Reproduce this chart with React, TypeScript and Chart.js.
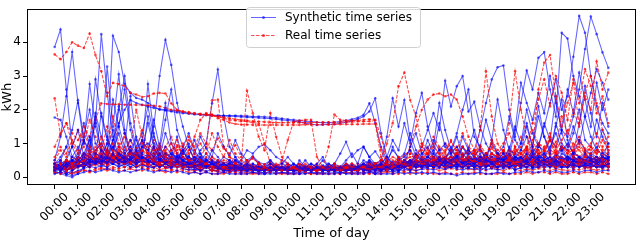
import React, { useEffect, useRef } from "react";
import { Chart, registerables } from "chart.js";

Chart.register(...registerables);

// 96 quarter-hour slots, labelled every hour
const hourLabels = ["00:00","01:00","02:00","03:00","04:00","05:00","06:00","07:00","08:00","09:00","10:00","11:00","12:00","13:00","14:00","15:00","16:00","17:00","18:00","19:00","20:00","21:00","22:00","23:00"];
const slotsPerHour = 4;

// ---------- Synthetic time series (kWh) ----------
const synth01 = [3.86,4.38,2.6,.9, .5,.4,.6,.4, .3,.5,.4,.3, .4,.3,.5,.4, .3,.4,.3,.4, .3,.4,.3,.3, .3,.2,.3,.2, .2,.3,.2,.2, .2,.2,.3,.2, .2,.3,.2,.2, .2,.2,.2,.3, .2,.2,.3,.2, .2,.3,.2,.2, .3,.2,.2,.3, .2,.3,.3,.2, .3,.4,.3,.3, .4,.3,.4,.3, .3,.4,.3,.4, .3,.4,.4,.3, .4,.3,.4,.4, .3,.4,.5,.4, .4,.5,.3,.4, .3,.4,.5,.3, .4,.3,.5,.4];
const synth02 = [.5,1.2,2.4,3.71, 2.2,1.0,2.76,1.5, .8,.6,.5,.7, .5,.4,.6,.5, .4,.5,.4,.3, .4,.3,.4,.3, .3,.4,.3,.3, .3,.2,.3,.3, .2,.3,.2,.3, .2,.2,.3,.2, .3,.2,.2,.2, .2,.3,.2,.3, .2,.2,.3,.2, .3,.2,.3,.2, .2,.3,.2,.3, .3,.2,.4,.3, .4,.3,.3,.5, .3,.4,.3,.4, .4,.3,.5,.4, .3,.5,.4,.3, .5,.4,.3,.5, .4,.3,.5,.4, .3,.5,.4,.5, .4,.5,.3,.4];
const synth03 = [.4,.3,.5,.4, .4,.6,.9,1.6, 4.24,2.5,1.2,.6, .4,.5,.7,.5, .4,.6,.5,.4, .3,.4,.5,.3, .4,.3,.3,.4, .3,.2,.3,.3, .2,.3,.2,.2, .3,.2,.2,.3, .2,.2,.3,.2, .2,.3,.2,.2, .3,.2,.2,.3, .2,.3,.2,.3, .3,.2,.3,.2, .3,.4,.3,.5, .4,.3,.5,.4, .5,.4,.3,.4, .4,.5,.4,.3, .5,.4,.3,.4, .4,.5,.6,.4, .5,.4,.6,.5, .4,.6,.5,.4, .5,.4,.5,.6];
const synth04 = [.3,.4,.3,.5, .4,.6,.5,.7, .6,1.0,4.19,3.71, 2.76,2.5,2.35,2.3, 2.2,2.1,2.0,1.98, 1.95,1.92,1.9,1.88, 1.86,1.85,1.84,1.83, 1.82,1.82,1.81,1.8, 1.79,1.78,1.77,1.76, 1.75,1.74,1.72,1.7, 1.68,1.66,1.64,1.6, 1.58,1.55,1.56,1.57, 1.57,1.6,1.63,1.67, 1.72,1.8,1.95,2.34, 1.3,.6,.4,.3, .4,.3,.5,.4, .3,.4,.3,.5, .4,.3,.4,.3, .4,.5,.3,.4, .3,.4,.5,.3, .4,.3,.5,.4, .5,.4,.3,.5, .4,.5,.4,.3, .5,.4,.3,.4];
const synth05 = [.4,.3,.4,.5, .6,.5,.8,.6, .5,.7,1.1,1.6, 2.0,2.29,2.2,2.15, 2.1,2.05,2.02,2.0, 1.98,1.96,1.93,1.9, 1.88,1.86,1.85,1.84, 1.83,1.82,1.83,1.83, 1.82,1.81,1.8,1.8, 1.79,1.78,1.76,1.74, 1.72,1.7,1.68,1.66, 1.65,1.63,1.62,1.62, 1.63,1.65,1.68,1.72, 1.76,1.85,2.19,1.6, .9,.5,.4,.3, .3,.4,.3,.4, .4,.3,.5,.4, .3,.4,.4,.3, .4,.5,.3,.4, .4,.3,.4,.5, .3,.4,.5,.4, .5,.3,.4,.4, .3,.5,.4,.3, .4,.4,.3,.5];
const synth06 = [.3,.4,.3,.4, .5,.4,.6,.5, .4,.6,.5,.7, .5,.8,.6,.9, .8,1.5,3.0,4.07, 3.33,2.2,1.5,.9, .5,.6,.4,.5, .4,.3,.4,.3, .3,.4,.3,.3, .2,.3,.3,.2, .3,.2,.3,.3, .2,.3,.2,.3, .3,.2,.3,.2, .3,.3,.2,.3, .3,.4,.3,.3, .4,.3,.5,.4, .3,.5,.4,.4, .5,.4,.3,.5, .4,.3,.5,.4, .3,.4,.5,.4, .5,.4,.3,.5, .4,.5,.4,.3, .5,.3,.4,.5, .4,.5,.4,.3];
const synth07 = [.3,.2,.4,.3, .4,.5,.4,.6, .5,.4,.7,.5, .6,.5,.4,.6, .5,.7,.5,.4, .6,.5,.7,.6, .5,.8,1.0,2.19, 3.19,1.8,.9,.6, .4,.5,.3,.4, .3,.4,.3,.3, .4,.3,.3,.2, .3,.3,.2,.3, .3,.2,.3,.3, .2,.3,.3,.4, .3,.4,.3,.4, .4,.5,.4,.3, .5,.4,.6,.4, .4,.5,.4,.6, .5,.4,.5,.4, .4,.6,.4,.5, .5,.4,.6,.4, .4,.5,.4,.6, .5,.4,.5,.4, .4,.5,.6,.4];
const synth08 = [.3,.5,.9,1.4, 2.28,1.2,2.0,1.0, .8,3.28,1.5,3.05, 1.4,.7,.5,.9, 2.76,1.3,.6,.4, .5,.4,.6,.5, .4,.3,.5,.4, .3,.4,.3,.3, .3,.2,.3,.3, .2,.3,.2,.3, .3,.2,.3,.2, .2,.3,.3,.2, .3,.2,.3,.3, .3,.2,.4,.3, .4,.3,.3,.5, .4,.5,.4,.3, .5,.4,.3,.5, .4,.3,.5,.4, .3,.5,.4,.3, .4,.3,.4,.5, .3,.5,.4,.3, .5,.3,.4,.5, .4,.3,.5,.4, .3,.4,.5,.3];
const synth09 = [1.77,1.7,1.2,.6, .5,1.1,.8,1.9, 1.2,.7,2.3,1.5, .9,2.4,1.1,.6, 1.8,1.0,.7,.5, .6,.4,.9,1.3, .8,.5,.4,.3, .4,.3,.3,.4, .3,.3,.2,.3, .3,.2,.3,.2, .2,.3,.2,.3, .3,.2,.2,.3, .2,.3,.3,.2, .3,.2,.3,.3, .2,.4,.3,.3, .4,.3,.4,.3, .3,.4,.5,.3, .4,.3,.4,.5, .3,.4,.3,.4, .5,.4,.3,.4, .4,.3,.5,.4, .3,.4,.4,.5, .4,.3,.5,.4, .3,.4,.3,.5];
const synth10 = [.2,.3,.2,.3, .4,.3,.5,.4, .6,.5,.4,.6, .5,.4,.6,.5, .4,.5,.4,.6, .5,.6,.4,.5, .6,.5,.7,.5, .4,.6,.5,.4, .5,.8,.7,.9, .97,.8,.6,.5, .4,.3,.4,.3, .4,.3,.5,.3, .4,.7,1.05,.6, .8,.9,.6,.77, .5,.4,.3,.4, .3,.4,.3,.4, .4,.3,.4,.3, .3,.4,.3,.4, .4,.3,.4,.3, .3,.4,.4,.3, .4,.3,.4,.4, .3,.4,.3,.4, .4,.3,.4,.3, .3,.4,.3,.4];
const synth11 = [.3,.4,.3,.5, .4,.5,.4,.6, .5,.4,.6,.5, .4,.5,.4,.5, .4,.3,.5,.4, .3,.4,.3,.4, .3,.3,.4,.3, .3,.2,.3,.3, .2,.3,.2,.3, .3,.2,.3,.2, .2,.3,.2,.3, .3,.2,.3,.3, .2,.3,.3,.4, .3,.4,.5,.4, .5,1.2,2.34,1.5, 2.29,1.1,.6,.9, 1.4,1.9,1.4,2.86, 2.1,2.7,3.0,1.95, 2.24,1.5,1.0,.7, .5,.6,.4,.5, .6,.4,.5,.7, .5,.6,.4,.5, .6,.5,.4,.6, .5,.4,.6,.5];
const synth12 = [.3,.4,.5,.3, .4,.5,.6,.4, .5,.6,.4,.5, .6,.5,.4,.5, .4,.5,.3,.4, .5,.4,.3,.4, .3,.4,.3,.3, .4,.3,.3,.2, .3,.2,.3,.3, .2,.3,.3,.2, .3,.2,.2,.3, .2,.3,.2,.2, .3,.2,.3,.2, .3,.3,.2,.3, .3,.4,.3,.4, .4,.5,.4,.6, .5,.7,.5,.6, .8,.6,.9,.7, .8,1.4,2.2,2.9, 3.26,3.31,2.0,1.2, 2.2,3.16,2.6,3.54, 3.71,2.6,1.8,4.28, 4.11,3.0,2.4,1.8, 2.5,3.2,2.8,2.3];
const synth13 = [.3,.4,.3,.4, .5,.4,.5,.6, .5,.4,.6,.5, .4,.5,.4,.5, .4,.5,.3,.4, .4,.3,.4,.3, .3,.4,.3,.3, .3,.2,.3,.3, .2,.3,.2,.2, .3,.2,.2,.3, .2,.2,.3,.2, .2,.3,.2,.2, .3,.2,.3,.2, .3,.3,.2,.3, .3,.4,.3,.3, .4,.3,.5,.4, .4,.5,.4,.3, .5,.4,.4,.5, .4,.5,.6,.4, .5,.6,.5,.7, .6,.8,.5,.9, 1.5,2.2,2.9,2.0, 2.4,3.57,4.78,4.28, 3.0,2.1,1.6,1.3];
const synth14 = [.2,.3,.2,.3, .3,.4,.3,.4, .4,.3,.5,.4, .3,.4,.3,.4, .3,.3,.4,.3, .3,.4,.3,.3, .2,.3,.3,.2, .3,.2,.2,.3, .2,.2,.2,.3, .2,.2,.3,.2, .2,.2,.2,.2, .3,.2,.2,.2, .2,.2,.3,.2, .2,.3,.2,.2, .3,.2,.3,.3, .3,.4,.3,.4, .3,.4,.4,.3, .4,.3,.4,.4, .3,.4,.3,.5, .4,.5,.4,.6, .5,.7,.6,.9, .8,1.1,.9,1.4, 1.2,1.8,2.6,3.8, 4.76,4.24,3.7,3.24];
const synth15 = [.4,.3,.5,.4, .6,.5,.7,.5, .6,.8,.6,.7, .5,.7,.6,.5, .6,.5,.4,.6, .5,.4,.5,.4, .4,.5,.3,.4, .4,.3,.4,.3, .3,.3,.2,.3, .3,.2,.3,.3, .3,.3,.3,.2, .3,.2,.3,.3, .2,.3,.3,.3, .3,.3,.3,.4, .3,.4,.4,.3, .5,.4,.6,.5, .6,.5,.4,.6, .5,.7,.5,.6, .6,.5,.7,.6, .5,.6,.6,1.4, 2.8,2.2,1.7,2.5, 1.9,3.0,2.2,1.4, 2.6,1.9,3.1,2.3, 1.5,2.8,2.0,2.6];
const synth16 = [.3,.4,.2,.3, .4,.3,.5,.6, .4,.5,.7,.5, .6,.4,.5,.6, .5,.4,.6,.4, .5,.3,.4,.5, .3,.4,.3,.3, .3,.3,.2,.3, .3,.2,.3,.2, .2,.3,.2,.3, .2,.3,.2,.2, .3,.2,.3,.2, .2,.2,.3,.3, .2,.3,.4,.3, .4,.3,.3,.4, .3,.4,.5,.4, .5,.4,.6,.5, .4,.6,.5,.4, .5,.6,.4,.7, .6,.5,.8,.7, 1.0,1.6,.9,1.8, 1.2,.8,1.5,2.3, 1.1,.7,1.6,2.7, 1.9,1.2,2.2,1.5];
const synth17 = [.4,.6,.9,.5, .7,1.6,.9,2.9, 1.8,1.1,.8,2.0, 3.0,1.6,.9,1.3, 2.1,1.2,.8,1.7, 2.6,1.4,.9,.6, 1.1,.7,.5,.4, .5,.4,.3,.4, .3,.35,.3,.25, .3,.25,.3,.28, .25,.3,.22,.28, .3,.25,.28,.22, .27,.3,.25,.3, .28,.35,.3,.32, .35,.3,.4,.35, .45,.4,.5,.42, .5,.45,.55,.48, .42,.5,.45,.55, .48,.55,.45,.5, .55,.5,.6,.52, .58,.5,.65,.55, .6,.52,.68,.58, .55,.62,.5,.6, .58,.52,.6,.55];
const synth18 = [.3,.35,.3,.4, .45,.5,.4,.55, .6,.5,.65,.55, .5,.6,.55,.5, .45,.55,.5,.4, .45,.4,.35,.4, .35,.3,.32,.28, .3,.26,.3,.25, .22,.26,.24,.2, .25,.22,.2,.24, .22,.25,.2,.23, .25,.22,.24,.2, .24,.2,.25,.27, .3,.26,.35,.3, .4,.6,1.1,.8, 1.6,1.0,1.9,2.5, 1.5,.9,2.2,1.4, .8,1.3,2.0,2.6, 1.2,.9,1.7,1.1, 2.3,1.4,.8,1.5, 1.0,2.0,1.3,.9, 1.6,1.1,2.4,1.3, .9,1.5,1.0,1.8, 1.2,.8,1.4,1.0];
const synthLow1 = [.2,.3,.1,.2, .3,.4,.3,.5, .4,.6,.5,.4, .5,.3,.4,.6, .5,.4,.3,.4, .3,.5,.4,.3, .3,.2,.3,.4, .3,.2,.2,.3, .2,.3,.2,.2, .1,.2,.2,.3, .2,.2,.1,.2, .2,.3,.2,.2, .2,.1,.2,.2, .3,.2,.2,.1, .2,.3,.2,.2, .3,.2,.4,.3, .3,.4,.3,.5, .4,.3,.3,.4, .3,.2,.3,.4, .3,.3,.4,.2, .3,.4,.3,.3, .4,.3,.5,.3, .3,.4,.3,.4, .4,.3,.3,.4];
const synthLow2 = [.3,.2,.4,.3, .5,.7,.6,.4, .8,.6,.9,.7, .6,.8,.5,.7, .6,.5,.7,.5, .4,.6,.5,.4, .5,.4,.3,.4, .3,.4,.3,.2, .3,.2,.3,.2, .2,.3,.2,.2, .3,.2,.2,.3, .2,.3,.2,.3, .2,.3,.2,.2, .3,.2,.3,.3, .2,.3,.3,.2, .4,.5,.3,.4, .5,.4,.6,.4, .5,.6,.4,.5, .4,.5,.4,.3, .5,.4,.3,.4, .4,.5,.3,.6, .5,.4,.5,.4, .3,.5,.4,.5, .5,.4,.6,.5];
const synthLow3 = [.1,.15,.1,.05, .1,.15,.2,.15, .2,.25,.2,.15, .2,.15,.2,.25, .2,.15,.2,.2, .15,.2,.15,.1, .15,.1,.15,.1, .1,.15,.1,.1, .1,.1,.15,.1, .1,.1,.1,.15, .1,.1,.1,.1, .15,.1,.1,.1, .1,.15,.1,.1, .1,.1,.15,.1, .1,.1,.1,.15, .1,.15,.1,.15, .1,.15,.1,.1, .1,.05,.1,.1, .1,.15,.1,.1, .15,.1,.1,.15, .15,.2,.15,.15, .2,.15,.2,.15, .15,.2,.15,.2, .2,.15,.2,.2];
const synthLow4 = [.4,.5,.3,.6, .9,.5,1.2,.7, .6,1.0,.8,1.3, .7,.9,.6,1.1, .8,.6,.9,.5, .7,.5,.6,.4, .4,.5,.3,.4, .3,.4,.5,.3, .3,.4,.3,.2, .3,.2,.3,.3, .2,.3,.3,.2, .3,.2,.3,.2, .3,.2,.2,.3, .3,.4,.3,.2, .3,.2,.4,.3, .5,.4,.7,.5, .6,.8,.5,.6, .7,.5,.9,.6, .5,.7,.4,.6, .6,.5,.7,.5, .6,.4,.7,.5, .5,.6,.4,.7, .6,.5,.6,.4, .5,.6,.4,.6];
const synthLow5 = [.25,.3,.2,.3, .35,.3,.45,.4, .5,.45,.4,.5, .45,.55,.4,.5, .45,.4,.5,.45, .4,.45,.35,.4, .35,.3,.35,.3, .25,.3,.25,.3, .25,.2,.25,.2, .2,.25,.2,.2, .2,.2,.25,.2, .2,.25,.2,.2, .25,.2,.2,.25, .2,.25,.2,.25, .25,.2,.25,.3, .3,.35,.3,.35, .35,.3,.4,.35, .3,.35,.3,.3, .35,.3,.35,.3, .3,.35,.3,.35, .35,.3,.4,.35, .35,.4,.35,.3, .4,.35,.3,.35, .35,.3,.35,.3];
const synthLow6 = [.2,.1,.05,0, .1,.3,.5,.4, .6,.4,.7,.5, .4,.6,.8,.5, .6,.9,.5,.7, .6,.5,.8,.5, .4,.6,.4,.3, .5,.3,.4,.6, .3,.2,.4,.3, .2,.4,.3,.2, .3,.2,.5,.3, .2,.3,.2,.4, .3,.2,.4,.3, .2,.3,.5,.3, .4,.3,.2,.4, .3,.5,.4,.3, .4,.3,.5,.4, .6,.4,.3,.5, .4,.6,.5,.4, .3,.5,.4,.6, .5,.4,.6,.5, .4,.5,.3,.5, .6,.4,.5,.3, .4,.5,.3,.4];
const synthLow7 = [.3,.4,.3,.5, .4,.6,.5,.8, 1.0,.7,.9,.6, .8,1.1,.7,.9, 1.0,.8,.6,.9, .7,.6,.8,.5, .6,.4,.5,.4, .4,.3,.4,.5, .4,.3,.4,.3, .3,.4,.3,.3, .3,.4,.3,.3, .4,.3,.3,.4, .3,.3,.4,.3, .3,.5,.4,.3, .4,.6,.4,.5, .6,.8,.5,.7, .9,.6,.8,1.0, .7,.9,.6,.8, .6,.5,.7,.4, .5,.7,.5,.6, .5,.7,.4,.6, .7,.5,.6,.8, .5,.7,.6,.5, .7,.6,.5,.7];
const synthLow8 = [.3,.2,.3,.4, .6,1.1,.7,.5, .4,.8,1.4,.9, .5,.7,1.2,.6, .5,.9,.6,1.3, .8,.5,.7,.9, .5,.7,.4,.8, .6,.4,.3,.5, .3,.4,.6,.4, .3,.5,.3,.4, .6,.4,.3,.5, .3,.4,.6,.3, .4,.3,.5,.7, .4,.9,.6,.4, .3,.5,.8,.6, .4,.9,1.3,.7, .6,1.1,.8,.5, .9,.6,1.2,.8, .6,.9,.5,1.1, .7,.5,.9,.6, .8,1.2,.7,1.0, .6,.9,1.3,.8, 1.0,.7,1.1,.8, .7,.9,.6,1.0];
const synthLow9 = [.35,.28,.52,.9, 1.4,.62,.45,1.8, .7,.52,1.1,2.1, 1.3,.6,.48,.75, 1.6,.9,.55,.42, .6,1.2,.5,.38, .45,.33,.5,.4, .3,.42,.28,.35, .25,.32,.22,.3, .27,.2,.31,.24, .22,.28,.19,.26, .3,.21,.25,.18, .26,.3,.22,.35, .28,.4,.32,.25, .38,.3,.45,.33, .5,.42,.36,.55, .44,.6,.38,.5, .62,.45,.7,.5, .55,.4,.65,.48, .5,.72,.45,.6, .58,.45,.8,.52, .7,.5,.62,.9, .55,.75,.6,.48, .66,.5,.72,.58];
const synthLow10 = [.28,.4,.33,.26, .45,.7,1.1,.6, 1.9,1.2,.7,1.5, 2.6,1.4,.8,1.1, .65,1.7,.9,2.2, 1.0,.7,.5,.62, .4,.55,.36,.48, .32,.4,.3,.26, .3,.24,.33,.27, .2,.26,.22,.29, .25,.2,.27,.23, .18,.25,.3,.22, .27,.22,.19,.28, .24,.32,.26,.3, .34,.27,.4,.31, .45,.38,.52,.41, .6,.47,.4,.58, .5,.65,.44,.7, .48,.6,.53,.42, .56,.46,.62,.5, .44,.58,.5,.66, .54,.42,.6,.5, .62,.48,.55,.7, .5,.6,.45,.58];
const synthLow11 = [.18,.22,.15,.12, .2,.26,.32,.28, .35,.3,.4,.33, .38,.42,.3,.36, .33,.28,.36,.3, .27,.32,.25,.22, .24,.2,.18,.22, .17,.2,.16,.19, .15,.18,.14,.16, .13,.16,.15,.12, .15,.13,.17,.14, .12,.15,.13,.16, .14,.17,.12,.15, .16,.13,.18,.15, .17,.2,.16,.19, .22,.25,.2,.24, .26,.22,.28,.24, .3,.25,.22,.27, .24,.28,.23,.26, .22,.26,.29,.24, .27,.3,.25,.32, .28,.33,.27,.3, .32,.27,.35,.29, .3,.34,.28,.32];
const synthLow12 = [.4,.32,.45,.38, .5,.42,.6,.52, .66,.55,.48,.62, .57,.7,.5,.6, .52,.45,.58,.47, .42,.5,.38,.44, .36,.42,.33,.3, .28,.34,.26,.31, .24,.29,.22,.27, .25,.2,.28,.23, .21,.26,.24,.2, .27,.22,.25,.3, .23,.29,.35,.26, .32,.28,.44,.36, .48,.38,.9,.55, .7,1.3,.8,.6, 1.1,.7,1.6,.9, .75,1.2,.65,.85, 1.4,.8,.6,1.0, .7,.9,1.8,1.1, .8,1.5,.9,2.1, 1.2,.7,1.6,1.0, .8,1.3,2.0,1.1, .9,1.7,1.2,.8];
const synthLow13 = [.22,.3,.26,.2, .33,.4,.36,.5, .45,.56,.62,.5, .58,.48,.66,.55, .6,.72,.5,.64, .7,.55,.8,1.0, .7,1.2,.85,.6, 1.3,.9,.65,1.1, .7,.5,.62,.45, .38,.5,.35,.42, .3,.38,.28,.33, .3,.26,.35,.28, .32,.27,.3,.25, .28,.33,.3,.36, .3,.38,.33,.42, .36,.45,.4,.5, .44,.38,.52,.46, .4,.5,.43,.38, .47,.4,.52,.45, .5,.42,.48,.55, .46,.55,.5,.42, .52,.45,.58,.5, .48,.56,.44,.52, .55,.47,.5,.6];
const synthLow14 = [.3,.24,.35,.28, .4,.35,.5,.44, .55,.62,.48,.7, .6,.52,.75,.58, .68,.5,.6,.72, .55,.66,.48,.58, .5,.44,.55,.4, .45,.38,.42,.35, .3,.35,.28,.32, .27,.3,.24,.29, .26,.22,.3,.25, .23,.28,.25,.21, .26,.3,.23,.28, .31,.26,.33,.29, .27,.35,.3,.38, .42,.36,.48,.4, .52,.45,.4,.55, .47,.58,.5,.44, .55,.48,.6,.52, .45,.55,.5,.6, .52,.62,.48,.56, .6,.5,.66,.54, .5,.58,.52,.64, .56,.5,.62,.54];

// ---------- Real time series (kWh) ----------
const real01 = [3.64,3.5,3.71,4.0, 3.9,3.83,4.26,3.62, 3.14,2.4,2.8,2.76, 2.7,2.5,2.45,2.38, 2.4,2.48,2.5,2.48, 2.19,2.0,1.95,1.9, 1.88,1.86,1.85,1.82, 1.8,1.78,1.75,1.72, 1.7,1.68,1.66,1.65, 1.64,1.63,1.62,1.62, 1.62,1.62,1.62,1.62, 1.62,1.63,1.63,1.63, 1.63,1.63,1.64,1.64, 1.65,1.65,1.66,1.68, .8,.4,.3,.4, .3,.4,.3,.5, .4,.3,.5,.4, .3,.4,.3,.4, .5,.4,.3,.4, .4,.3,.5,.4, .3,.4,.4,.5, .4,.3,.5,.4, .5,.4,.3,.5, .4,.5,.4,.3];
const real02 = [2.34,1.25,1.6,1.3, 1.1,1.5,1.2,1.7, 2.19,2.17,2.16,2.16, 2.15,2.15,2.14,2.14, 2.13,2.12,2.1,2.05, 2.0,1.98,1.95,1.93, 1.9,1.88,1.86,1.85, 1.75,1.7,1.62,1.58, 1.56,1.56,1.55,1.55, 1.55,1.55,1.55,1.55, 1.55,1.55,1.55,1.56, 1.56,1.56,1.56,1.56, 1.57,1.57,1.57,1.57, 1.57,1.58,1.58,1.58, .6,.3,.4,.3, .4,.3,.4,.5, .3,.4,.5,.4, .3,.5,.4,.3, .4,.3,.5,.4, .3,.4,.3,.5, .4,.5,.3,.4, .5,.4,.3,.4, .3,.5,.4,.3, .4,.3,.4,.5];
const real03 = [.4,.5,.4,.6, .5,.7,.6,.5, .8,.6,.7,.5, .6,.5,.7,.6, .5,.6,.5,.7, .6,.8,1.0,.7, 1.2,1.7,1.9,1.85, 1.8,1.75,1.7,1.68, 1.66,1.65,1.62,1.6, 1.0,.4,.3,.5, 1.1,1.65,1.68,1.7, 1.7,.6,.3,.9, 1.86,1.7,1.68,1.68, 1.68,1.7,1.72,1.7, 1.2,.5,.3,.4, .3,.4,.3,.3, .4,.3,.4,.3, .3,.4,.3,.4, .3,.3,.4,.3, .4,.3,.3,.4, .3,.4,.3,.3, .4,.3,.4,.3, .3,.4,.3,.4, .4,.3,.3,.4];
const real04 = [.3,.4,.3,.4, .5,.4,.6,.5, .4,.6,.5,.7, .6,.5,.7,.5, .6,.5,.4,.6, .5,.4,.6,.5, .4,.6,.9,2.28, 2.3,.9,.6,.5, .4,2.56,1.9,1.2, .8,1.9,1.2,.6, .4,.3,.4,.3, .3,.4,.3,.3, .4,.3,.3,.4, .3,.3,.4,.3, .4,.3,.4,.5, .4,.5,.4,.6, .5,.4,.6,.5, .4,.5,.6,.4, .5,.4,.5,.6, .4,.5,.4,.5, .6,.4,.5,.4, .5,.6,.4,.5, .4,.5,.6,.4, .5,.4,.5,.6];
const real05 = [.3,.4,.3,.3, .4,.3,.5,.4, .5,.4,.6,.5, .4,.5,.4,.6, .5,.4,.5,.4, .4,.5,.4,.3, .4,.3,.3,.4, .3,.3,.4,.3, .3,.2,.3,.3, .2,.3,.2,.3, .3,.2,.3,.2, .2,.3,.3,.2, .3,.2,.3,.3, .3,.4,.3,.4, .4,1.0,1.6,2.7, 3.1,2.29,1.8,1.0, .6,.5,.7,.5, .6,.4,.5,.6, .5,.6,.4,.5, .6,.5,.4,.6, .5,.4,.6,.5, .4,.6,.5,.4, .6,.5,.4,.5, .5,.4,.6,.5];
const real06 = [.3,.2,.3,.4, .3,.4,.5,.4, .5,.4,.5,.6, .4,.5,.4,.5, .4,.5,.4,.3, .4,.3,.4,.3, .3,.4,.3,.3, .3,.2,.3,.3, .2,.3,.2,.2, .3,.2,.2,.3, .2,.2,.3,.2, .2,.3,.2,.2, .3,.2,.2,.3, .3,.2,.3,.3, .3,.4,.3,.4, .5,.9,1.5,2.0, 2.3,2.45,2.48,2.4, 2.45,2.3,1.8,1.2, .8,.5,.6,.4, .5,.6,.4,.5, .4,.6,.5,.4, .6,.4,.5,.6, .5,.4,.6,.5, .4,.6,.5,.4];
const real07 = [.2,.3,.2,.3, .4,.3,.5,.4, .5,.4,.6,.5, .4,.5,.4,.3, .4,.3,.4,.3, .3,.4,.3,.3, .3,.2,.3,.2, .2,.3,.2,.2, .2,.2,.3,.2, .2,.2,.2,.3, .2,.3,.2,.2, .2,.2,.3,.2, .3,.2,.2,.2, .2,.3,.2,.3, .3,.3,.4,.3, .4,.5,.4,.5, .5,.6,.5,.4, .5,.7,.5,.6, .6,1.4,3.14,1.8, 1.0,.7,1.6,3.14, 2.0,1.2,.9,2.6, 3.4,3.62,2.4,1.5, 2.2,2.8,1.6,2.4, 2.0,3.43,2.6,3.1];
const real08 = [.3,.2,.4,.3, .4,.5,.4,.6, .5,.7,.5,.6, .6,.5,.7,.5, .5,.4,.5,.4, .4,.3,.4,.4, .3,.3,.4,.3, .3,.2,.3,.3, .2,.3,.2,.3, .3,.2,.2,.2, .2,.2,.3,.2, .3,.2,.2,.3, .2,.3,.2,.2, .3,.2,.3,.3, .3,.4,.3,.4, .4,.3,.5,.4, .5,.4,.6,.5, .6,.5,.4,.6, .5,.6,.5,.7, .6,.8,.6,.9, .5,.9,1.6,2.3, 2.9,2.1,3.0,2.5, 1.7,2.9,2.2,3.2, 2.7,1.9,2.4,1.6];
const real09 = [.3,.4,.3,.2, .3,.4,.6,.5, .4,.6,.5,.7, .5,.6,.4,.5, .6,.5,.4,.5, .4,.5,.3,.4, .3,.4,.3,.3, .2,.3,.3,.2, .3,.2,.2,.3, .2,.2,.3,.2, .3,.2,.2,.2, .2,.3,.2,.2, .2,.2,.2,.3, .3,.2,.3,.2, .2,.3,.4,.3, .4,.3,.4,.5, .4,.5,.4,.4, .5,.4,.5,.6, .4,.5,.6,.5, .6,.5,.7,.6, .5,.7,.6,.8, .6,1.2,.9,1.8, 1.3,2.0,1.5,2.5, 3.0,2.2,1.4,.9];
const real10 = [.5,.8,.6,.9, 1.4,1.0,1.7,1.2, .8,1.5,1.0,.7, 1.3,.9,2.0,1.2, .8,1.1,.6,.9, 1.2,.7,.5,.8, .6,.5,.4,.6, .4,.3,.5,.4, .3,.4,.3,.3, .2,.3,.3,.2, .3,.2,.3,.3, .2,.3,.2,.3, .3,.2,.3,.4, .3,.4,.3,.3, .4,.3,.5,.4, .5,.7,.5,.8, .6,.9,.7,1.0, .8,.6,.9,.7, .7,.8,.6,.9, .7,.6,.8,.6, .7,.9,.6,.8, .6,.8,.7,.9, .8,.6,.9,.7, .6,.8,.7,.6];
const realLow1 = [.2,.3,.2,.3, .4,.5,.6,.5, .7,.6,.8,.6, .5,.7,.6,.5, .6,.5,.4,.5, .4,.5,.4,.3, .4,.3,.4,.3, .3,.3,.2,.3, .2,.3,.2,.2, .3,.2,.2,.2, .2,.3,.2,.2, .2,.2,.3,.2, .3,.2,.2,.2, .2,.3,.2,.3, .3,.2,.3,.4, .4,.3,.5,.4, .5,.4,.4,.6, .4,.5,.3,.4, .5,.4,.4,.3, .4,.3,.4,.4, .3,.4,.5,.3, .4,.5,.3,.4, .3,.4,.4,.5, .4,.3,.4,.3];
const realLow2 = [.9,1.3,1.6,1.0, .7,.9,.6,.8, 1.0,.7,.5,.9, 1.2,.8,.6,1.0, .7,.5,.9,.6, .8,1.1,.6,.5, .7,.5,.4,.6, .5,.4,.6,.4, .3,.5,.3,.4, .3,.2,.4,.3, .2,.3,.2,.3, .3,.2,.3,.2, .2,.3,.4,.3, .3,.2,.3,.4, .5,.3,.4,.6, .4,.7,.5,.9, .7,1.0,.6,.8, 1.1,.7,.9,.6, .8,.5,.7,1.0, .6,.8,.5,.7, .9,.6,1.1,.7, .8,1.2,.6,.9, .7,1.0,.8,.6, .9,.7,1.1,.8];
const realLow3 = [.15,.1,.15,.1, .15,.2,.15,.2, .25,.2,.25,.2, .2,.25,.2,.2, .25,.2,.2,.15, .2,.15,.2,.15, .15,.1,.15,.1, .1,.1,.15,.1, .1,.1,.1,.1, .1,.15,.1,.1, .1,.1,.1,.15, .1,.1,.1,.1, .1,.1,.15,.1, .1,.1,.1,.1, .1,.15,.1,.1, .15,.1,.15,.1, .15,.1,.1,.15, .1,.1,.15,.1, .15,.1,.1,.1, .1,.15,.1,.1, .1,.15,.1,.15, .15,.1,.15,.1, .1,.15,.1,.15, .15,.1,.15,.1];
const realLow4 = [.3,.4,.3,.4, .5,.6,.8,.7, .9,.7,1.0,.8, .7,.9,.7,.8, .6,.8,.7,.5, .6,.5,.6,.5, .5,.4,.4,.3, .4,.3,.3,.4, .3,.3,.3,.2, .3,.2,.3,.3, .3,.2,.3,.3, .3,.3,.2,.3, .3,.3,.3,.2, .3,.3,.4,.3, .3,.4,.3,.5, .5,.6,.4,.6, .7,.5,.6,.5, .6,.5,.7,.5, .5,.4,.6,.5, .5,.4,.5,.4, .5,.6,.4,.5, .5,.4,.6,.5, .4,.6,.5,.4, .5,.6,.5,.4];
const realLow5 = [.25,.2,.3,.25, .3,.35,.3,.4, .4,.35,.45,.4, .4,.45,.35,.4, .35,.4,.35,.3, .35,.3,.35,.3, .3,.25,.3,.25, .25,.2,.25,.2, .2,.2,.2,.25, .2,.2,.25,.2, .2,.25,.2,.2, .25,.2,.2,.2, .2,.2,.25,.2, .2,.25,.2,.25, .2,.25,.3,.25, .3,.25,.3,.3, .3,.35,.3,.3, .35,.3,.3,.35, .3,.3,.35,.3, .3,.35,.3,.3, .35,.3,.35,.3, .3,.35,.3,.35, .35,.3,.35,.3, .3,.35,.3,.35];
const realLow6 = [.3,.4,.5,.4, .6,.5,.7,.9, .6,.8,.5,.7, .9,.6,.8,1.1, .7,.9,.6,.8, 1.0,.7,.9,1.2, .8,1.0,.7,1.3, .9,.6,1.1,.7, .5,.4,.6,.4, .3,.4,.3,.2, .3,.2,.3,.4, .3,.2,.2,.3, .4,.3,.2,.3, .2,.3,.3,.4, .3,.5,.4,.6, .5,.4,.7,.5, .8,.6,.5,.7, .5,.8,.6,.4, .6,.5,.4,.6, .5,.4,.6,.5, .4,.6,.5,.7, .6,.4,.7,.5, .6,.8,.5,.6, .7,.5,.6,.4];
const realLow7 = [.2,.3,.2,.3, .3,.4,.3,.5, .4,.5,.6,.4, .5,.4,.6,.5, .4,.5,.3,.4, .3,.4,.3,.3, .3,.2,.3,.2, .2,.3,.2,.2, .2,.2,.3,.2, .2,.2,.2,.2, .2,.3,.2,.2, .2,.2,.2,.3, .2,.2,.3,.2, .3,.2,.2,.3, .2,.3,.2,.3, .3,.4,.3,.4, .4,.5,.4,.6, .5,.7,.6,.8, .7,.9,.6,1.1, .8,1.0,1.3,.9, 1.2,.8,1.4,1.0, .9,1.3,.8,1.1, 1.4,.9,1.2,.8, 1.0,1.3,.9,1.2];
const realLow8 = [.4,.3,.5,.4, .5,.7,.5,.6, .8,.6,.7,.9, .6,.7,.5,.8, .7,.5,.6,.7, .5,.6,.4,.5, .4,.5,.4,.4, .3,.4,.3,.3, .3,.2,.3,.3, .2,.3,.3,.2, .3,.3,.2,.3, .2,.3,.3,.3, .3,.2,.3,.3, .3,.3,.2,.3, .4,.3,.3,.4, .4,.5,.4,.5, .5,.4,.6,.5, .4,.6,.5,.5, .5,.4,.5,.6, .4,.5,.5,.4, .5,.4,.5,.6, .4,.5,.6,.5, .5,.4,.5,.6, .5,.6,.4,.5];
const realLow9 = [.25,.32,.28,.35, .42,.5,.46,.6, .55,.66,.52,.74, .6,.7,.58,.65, .52,.6,.48,.55, .45,.52,.4,.46, .38,.42,.35,.4, .32,.28,.34,.3, .26,.3,.24,.27, .22,.26,.2,.24, .23,.2,.25,.21, .2,.24,.22,.26, .24,.21,.27,.23, .26,.3,.25,.32, .3,.36,.32,.4, .38,.45,.4,.5, .47,.55,.5,.44, .52,.46,.58,.5, .45,.52,.48,.42, .5,.44,.55,.47, .42,.5,.46,.55, .5,.44,.52,.48, .45,.53,.47,.5, .52,.46,.55,.49];
const realLow10 = [.6,.9,.7,1.1, .8,1.3,.9,.65, 1.2,.8,1.8,1.0, .7,1.1,.85,1.4, .9,.65,1.0,.75, .6,.9,.7,.5, .55,.42,.6,.48, .4,.5,.36,.44, .33,.4,.3,.36, .28,.33,.26,.3, .3,.25,.32,.27, .24,.3,.26,.22, .28,.25,.3,.26, .3,.27,.34,.3, .36,.32,.42,.38, .5,.44,.62,.5, .7,.55,.85,.6, .75,.9,.62,.8, .66,.78,.55,.7, .6,.72,.58,.8, .68,.85,.6,.95, .75,1.1,.7,.9, .8,.65,1.0,.72, .9,.7,.82,.66];
const realLow11 = [.12,.16,.1,.14, .17,.22,.18,.25, .28,.24,.3,.26, .3,.26,.33,.28, .25,.3,.22,.27, .24,.2,.26,.22, .19,.22,.17,.2, .16,.14,.18,.15, .13,.15,.12,.14, .12,.14,.11,.13, .12,.1,.13,.11, .1,.13,.12,.1, .12,.1,.14,.12, .13,.15,.12,.16, .15,.18,.14,.2, .18,.22,.2,.25, .22,.26,.2,.24, .26,.22,.28,.24, .22,.25,.2,.27, .24,.2,.26,.22, .2,.24,.21,.26, .23,.2,.25,.22, .2,.24,.22,.26, .24,.21,.25,.22];
const realLow12 = [.4,.35,.46,.38, .52,.45,.6,.5, .62,.55,.7,.58, .66,.75,.6,.8, .7,.62,.85,.7, .8,.95,.7,1.1, .9,1.3,1.0,.8, 1.15,.85,.7,.95, .6,.5,.55,.42, .38,.45,.34,.4, .36,.3,.38,.32, .3,.35,.28,.33, .35,.3,.38,.33, .4,.36,.45,.4, .5,.45,.6,.52, .65,.8,.6,1.0, .85,1.2,.9,.75, 1.05,.8,1.3,.9, .75,.95,.7,.85, .65,.8,.6,.75, .7,.6,.85,.68, .8,.65,.75,.9, .7,.82,.6,.76, .68,.8,.62,.74];
const realLow13 = [.3,.26,.34,.3, .36,.42,.38,.46, .5,.44,.56,.48, .52,.46,.58,.5, .46,.52,.42,.48, .4,.46,.36,.42, .34,.3,.36,.28, .3,.26,.32,.27, .24,.28,.22,.25, .21,.24,.2,.23, .2,.23,.19,.22, .21,.19,.23,.2, .22,.2,.24,.21, .24,.22,.27,.24, .28,.25,.32,.28, .34,.3,.38,.34, .4,.35,.44,.38, .36,.42,.38,.45, .4,.36,.42,.38, .37,.42,.35,.4, .38,.42,.36,.44, .4,.36,.42,.38, .41,.37,.44,.39, .42,.38,.4,.36];
const realLow14 = [.28,.34,.3,.26, .35,.3,.4,.36, .44,.38,.5,.42, .46,.4,.52,.44, .4,.46,.36,.42, .35,.4,.32,.36, .3,.34,.28,.32, .26,.3,.24,.28, .22,.26,.2,.24, .21,.24,.19,.22, .2,.22,.18,.21, .2,.18,.22,.19, .21,.19,.23,.2, .22,.25,.21,.26, .25,.3,.26,.33, .3,.36,.32,.4, .38,.44,.36,.48, .42,.5,.45,.55, .5,.62,.55,.7, .6,.78,.65,.85, .7,.9,.75,1.0, .85,.7,1.05,.8, .95,.75,1.1,.85, .8,1.0,.75,.9];

const syntheticSeries = [synthLow1, synthLow2, synthLow3, synthLow4, synthLow5, synthLow6, synthLow7, synthLow8, synthLow9, synthLow10, synthLow11, synthLow12, synthLow13, synthLow14, synth01, synth02, synth03, synth04, synth05, synth06, synth07, synth08, synth09, synth10, synth11, synth12, synth13, synth14, synth15, synth16, synth17, synth18];
const realSeries = [realLow1, realLow2, realLow3, realLow4, realLow5, realLow6, realLow7, realLow8, realLow9, realLow10, realLow11, realLow12, realLow13, realLow14, real01, real02, real03, real04, real05, real06, real07, real08, real09, real10];

const legendLabels = ["Synthetic time series", "Real time series"];
const yTickValues = [0, 1, 2, 3, 4];

const BLUE = "rgba(0,0,255,0.6)";
const RED = "rgba(255,0,0,0.7)";
const FONT = "'DejaVu Sans', sans-serif";

export default function App() {
  const ref = useRef<HTMLCanvasElement | null>(null);

  useEffect(() => {
    document.body.style.margin = "0";
    const canvas = ref.current;
    if (!canvas) return;

    const toPoints = (arr: number[]) => arr.map((v, i) => ({ x: i, y: v }));
    const blueSets: any[] = syntheticSeries.map((s) => ({
      data: toPoints(s),
      borderColor: BLUE,
      backgroundColor: BLUE,
      borderWidth: 1.1,
      pointRadius: 1.3,
      pointBorderWidth: 0,
      pointBackgroundColor: BLUE,
    }));
    const redSets: any[] = realSeries.map((s) => ({
      data: toPoints(s),
      borderColor: RED,
      backgroundColor: RED,
      borderWidth: 1.1,
      borderDash: [3.5, 1.5],
      pointRadius: 1.3,
      pointBorderWidth: 0,
      pointBackgroundColor: RED,
    }));
    // interleave so neither colour fully covers the other
    const datasets: any[] = [];
    const n = Math.max(blueSets.length, redSets.length);
    for (let k = 0; k < n; k++) {
      if (blueSets[k]) datasets.push(blueSets[k]);
      if (redSets[k]) datasets.push(redSets[k]);
    }

    const framePlugin = {
      id: "frameAndLegend",
      afterDraw(chart: any) {
        const { ctx, chartArea } = chart;
        ctx.save();
        ctx.strokeStyle = "#000";
        ctx.lineWidth = 1;
        ctx.setLineDash([]);
        ctx.strokeRect(
          Math.round(chartArea.left) + 0.5,
          Math.round(chartArea.top) + 0.5,
          Math.round(chartArea.right - chartArea.left) - 1,
          Math.round(chartArea.bottom - chartArea.top) - 1
        );
        // legend box
        const lx = 246.5, ly = 7.5, lw = 174, lh = 40;
        ctx.beginPath();
        (ctx as any).roundRect(lx, ly, lw, lh, 3);
        ctx.fillStyle = "rgba(255,255,255,0.85)";
        ctx.fill();
        ctx.strokeStyle = "#d0d0d0";
        ctx.stroke();
        const rows = [
          { y: 17.5, color: BLUE, dash: [] as number[], label: legendLabels[0] },
          { y: 35.5, color: RED, dash: [3.5, 1.5], label: legendLabels[1] },
        ];
        rows.forEach((r) => {
          ctx.beginPath();
          ctx.setLineDash(r.dash);
          ctx.strokeStyle = r.color;
          ctx.lineWidth = 1;
          ctx.moveTo(251, r.y);
          ctx.lineTo(276, r.y);
          ctx.stroke();
          ctx.setLineDash([]);
          ctx.beginPath();
          ctx.fillStyle = r.color;
          ctx.arc(263.5, r.y, 1.5, 0, Math.PI * 2);
          ctx.fill();
          ctx.fillStyle = "#000";
          ctx.font = `12px ${FONT}`;
          ctx.textBaseline = "middle";
          ctx.textAlign = "left";
          ctx.fillText(r.label, 285, r.y + 0.5);
        });
        ctx.restore();
      },
    };

    const chart = new Chart(canvas, {
      type: "line",
      data: { datasets },
      options: {
        animation: false,
        responsive: false,
        devicePixelRatio: 1,
        layout: { padding: { left: 0, right: 2, top: 2, bottom: 0 } },
        plugins: { legend: { display: false }, tooltip: { enabled: false } },
        elements: { line: { tension: 0 } },
        scales: {
          x: {
            type: "linear",
            min: -4.75,
            max: 99.75,
            border: { display: false },
            grid: { drawOnChartArea: false, drawTicks: true, tickLength: 4, color: "#000" },
            afterBuildTicks: (scale: any) => {
              scale.ticks = hourLabels.map((_, k) => ({ value: k * slotsPerHour }));
            },
            afterFit: (scale: any) => {
              scale.height = 56;
              scale.paddingLeft = 0;
              scale.paddingRight = 0;
            },
            ticks: {
              autoSkip: false,
              maxRotation: 45,
              minRotation: 45,
              padding: 1,
              labelOffset: 12,
              color: "#000",
              font: { family: FONT, size: 12 },
              callback: (v: any) => hourLabels[Math.round(Number(v) / slotsPerHour)] ?? "",
            },
            title: {
              display: true,
              text: "Time of day",
              color: "#000",
              padding: { top: 0, bottom: 0 },
              font: { family: FONT, size: 13 },
            },
          },
          y: {
            type: "linear",
            min: -0.23,
            max: 4.98,
            border: { display: false },
            grid: { drawOnChartArea: false, drawTicks: true, tickLength: 4, color: "#000" },
            afterBuildTicks: (scale: any) => {
              scale.ticks = yTickValues.map((v) => ({ value: v }));
            },
            afterFit: (scale: any) => {
              scale.width = 27;
            },
            ticks: {
              padding: 2,
              color: "#000",
              font: { family: FONT, size: 12 },
              callback: (v: any) => String(v),
            },
            title: {
              display: true,
              text: "kWh",
              color: "#000",
              padding: { top: 0, bottom: 0 },
              font: { family: FONT, size: 13 },
            },
          },
        },
      },
      plugins: [framePlugin],
    });

    return () => chart.destroy();
  }, []);

  return (
    <div style={{ position: "fixed", left: 0, top: 0, width: 640, height: 241, background: "#fff" }}>
      <canvas ref={ref} width={640} height={241} style={{ width: 640, height: 241, display: "block" }} />
    </div>
  );
}
